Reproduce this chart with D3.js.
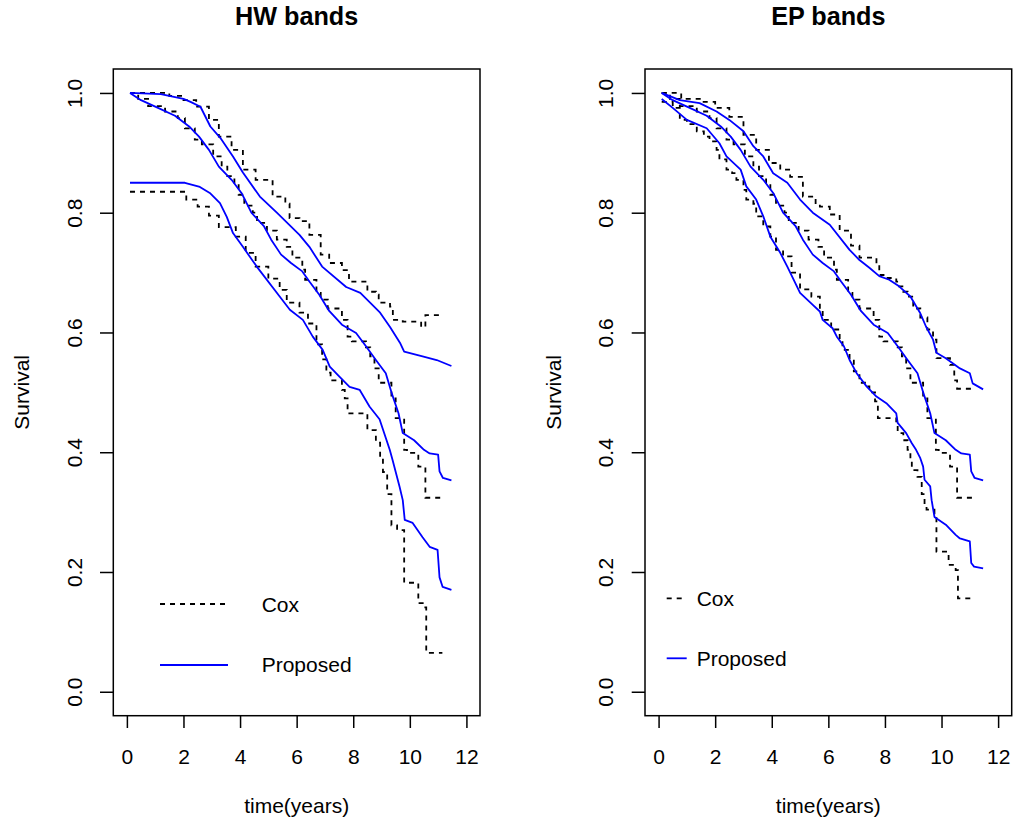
<!DOCTYPE html>
<html>
<head>
<meta charset="utf-8">
<script src="https://cdn.jsdelivr.net/npm/d3@7"></script>
<style>
  html, body { margin: 0; padding: 0; background: #fff; }
  svg { display: block; }
  text { font-family: "Liberation Sans", Arial, Helvetica, sans-serif; fill: #000; }
</style>
</head>
<body>
<svg id="chart" width="1014" height="824"></svg>
<script>
// ---- Survival curves: [time in years, survival probability] ----

// Point estimates (identical in both panels)
const coxEstimate = [[0.11,1.0],[0.4,0.99],[0.75,0.978],[1.35,0.969],[1.8,0.958],[2.05,0.941],[2.4,0.922],[2.65,0.914],[3.05,0.894],[3.35,0.877],[3.55,0.861],[3.8,0.848],[3.95,0.83],[4.15,0.812],[4.45,0.8],[4.6,0.783],[4.95,0.77],[5.3,0.755],[5.65,0.743],[5.85,0.725],[6.2,0.705],[6.3,0.688],[6.7,0.666],[6.85,0.655],[7.1,0.64],[7.6,0.621],[7.8,0.593],[7.95,0.585],[8.45,0.575],[8.6,0.56],[8.75,0.54],[8.9,0.516],[9.35,0.49],[9.5,0.457],[9.8,0.404],[9.9,0.399],[10.3,0.376],[10.55,0.324],[11.15,0.324]];
const proposedEstimate = [[0.11,1.0],[0.5,0.988],[1.1,0.975],[1.7,0.962],[2.2,0.944],[2.55,0.927],[2.9,0.905],[3.25,0.877],[3.7,0.855],[4.05,0.833],[4.4,0.8],[4.85,0.777],[5.1,0.755],[5.45,0.73],[5.8,0.716],[6.2,0.702],[6.45,0.685],[6.8,0.663],[7.15,0.636],[7.6,0.613],[8.1,0.599],[8.45,0.577],[8.8,0.554],[9.15,0.532],[9.35,0.5],[9.6,0.465],[9.75,0.432],[10.15,0.42],[10.5,0.404],[10.7,0.398],[11.0,0.396],[11.05,0.368],[11.17,0.357],[11.47,0.353]];

// HW bands
const hwCoxUpper = [[0.11,1.0],[1.5,0.995],[2.0,0.988],[2.45,0.977],[2.9,0.955],[3.25,0.927],[3.7,0.905],[4.1,0.872],[4.55,0.855],[5.15,0.827],[5.6,0.815],[5.75,0.791],[6.1,0.786],[6.45,0.763],[6.85,0.73],[7.15,0.716],[7.6,0.704],[7.85,0.685],[8.5,0.668],[8.8,0.663],[8.9,0.65],[9.3,0.643],[9.4,0.621],[9.75,0.618],[10.4,0.609],[10.55,0.629],[11.15,0.629]];
const hwCoxLower = [[0.11,0.835],[2.1,0.822],[2.5,0.81],[2.9,0.795],[3.25,0.776],[3.85,0.76],[4.2,0.733],[4.55,0.71],[5.0,0.69],[5.4,0.671],[5.65,0.65],[6.1,0.633],[6.4,0.615],[6.7,0.58],[6.9,0.555],[7.05,0.533],[7.2,0.52],[7.6,0.504],[7.7,0.49],[7.8,0.465],[8.5,0.437],[8.8,0.416],[8.95,0.39],[9.05,0.367],[9.2,0.33],[9.35,0.278],[9.55,0.27],[9.8,0.182],[10.3,0.148],[10.5,0.141],[10.58,0.065],[11.15,0.065]];
const hwPropUpper = [[0.11,1.0],[1.2,0.998],[2.0,0.99],[2.25,0.985],[2.6,0.977],[2.95,0.944],[3.3,0.925],[3.75,0.894],[4.1,0.867],[4.7,0.827],[5.3,0.8],[6.1,0.763],[6.45,0.743],[6.9,0.71],[7.75,0.676],[8.25,0.666],[8.95,0.633],[9.3,0.609],[9.65,0.583],[9.8,0.568],[10.45,0.56],[10.95,0.554],[11.47,0.544]];
const hwPropLower = [[0.11,0.85],[2.05,0.85],[2.58,0.843],[2.93,0.833],[3.29,0.816],[3.53,0.793],[3.75,0.766],[4.1,0.743],[4.59,0.71],[5.4,0.66],[5.76,0.638],[6.22,0.621],[6.57,0.593],[6.92,0.571],[7.17,0.543],[7.52,0.526],[7.87,0.509],[8.23,0.504],[8.58,0.476],[8.93,0.455],[9.29,0.404],[9.39,0.387],[9.64,0.342],[9.75,0.32],[9.82,0.287],[10.1,0.282],[10.45,0.258],[10.7,0.242],[10.98,0.237],[11.05,0.191],[11.16,0.175],[11.47,0.17]];

// EP bands
const epCoxUpper = [[0.11,1.0],[0.8,0.99],[1.5,0.985],[2.0,0.975],[2.5,0.96],[3.0,0.93],[3.45,0.905],[3.9,0.883],[4.3,0.872],[4.65,0.86],[5.1,0.827],[5.55,0.816],[5.7,0.81],[6.05,0.797],[6.4,0.77],[6.8,0.745],[7.1,0.725],[7.7,0.713],[7.8,0.696],[7.95,0.691],[8.4,0.685],[8.5,0.677],[8.65,0.668],[8.8,0.66],[9.0,0.64],[9.25,0.625],[9.5,0.605],[9.7,0.588],[9.82,0.557],[10.3,0.546],[10.45,0.52],[10.55,0.506],[11.1,0.506]];
const epCoxLower = [[0.11,0.985],[0.5,0.975],[0.75,0.955],[1.0,0.948],[1.35,0.936],[1.6,0.927],[1.8,0.919],[2.05,0.905],[2.15,0.889],[2.4,0.872],[2.6,0.866],[2.75,0.855],[3.0,0.838],[3.1,0.822],[3.35,0.815],[3.45,0.794],[3.7,0.777],[3.95,0.76],[4.15,0.738],[4.4,0.727],[4.7,0.7],[5.0,0.672],[5.4,0.66],[5.7,0.638],[5.8,0.621],[6.1,0.605],[6.4,0.588],[6.5,0.571],[6.75,0.553],[6.9,0.535],[7.1,0.516],[7.35,0.51],[7.45,0.5],[7.65,0.485],[7.75,0.457],[8.4,0.449],[8.45,0.432],[8.65,0.42],[8.8,0.404],[8.9,0.385],[8.95,0.37],[9.15,0.359],[9.3,0.33],[9.4,0.309],[9.47,0.304],[9.75,0.292],[9.82,0.234],[10.25,0.212],[10.5,0.203],[10.58,0.156],[11.15,0.156]];
const epPropUpper = [[0.11,1.0],[0.75,0.988],[1.45,0.983],[2.05,0.969],[2.5,0.955],[3.0,0.936],[3.35,0.911],[3.7,0.894],[4.05,0.866],[4.55,0.85],[5.0,0.822],[5.45,0.8],[6.05,0.78],[6.75,0.738],[7.1,0.721],[7.45,0.708],[7.8,0.694],[8.15,0.688],[8.5,0.677],[8.9,0.66],[9.25,0.632],[9.45,0.61],[9.7,0.588],[9.82,0.566],[10.15,0.557],[10.65,0.54],[11.0,0.532],[11.1,0.515],[11.47,0.505]];
const epPropLower = [[0.11,0.99],[0.5,0.975],[1.0,0.955],[1.7,0.941],[2.15,0.916],[2.4,0.894],[2.9,0.872],[3.1,0.844],[3.45,0.822],[3.7,0.794],[3.95,0.76],[4.3,0.733],[4.55,0.71],[5.0,0.666],[5.45,0.646],[5.7,0.635],[5.8,0.621],[6.15,0.607],[6.3,0.593],[6.55,0.577],[6.75,0.554],[7.0,0.532],[7.35,0.51],[7.7,0.493],[8.05,0.482],[8.4,0.465],[8.45,0.449],[8.75,0.432],[8.95,0.415],[9.1,0.404],[9.25,0.39],[9.35,0.376],[9.4,0.354],[9.6,0.343],[9.65,0.32],[9.75,0.292],[10.15,0.279],[10.5,0.262],[10.65,0.256],[11.0,0.251],[11.05,0.215],[11.15,0.209],[11.47,0.206]];

// Axes and labels
const xTicks = [0, 2, 4, 6, 8, 10, 12];
const yTicks = [0.0, 0.2, 0.4, 0.6, 0.8, 1.0];
const xDomain = [0, 12];
const yDomain = [0, 1];
const xLabel = "time(years)";
const yLabel = "Survival";
const legendLabels = ["Cox", "Proposed"];

const panels = [
  { title: "HW bands", left: 113.3, cox: [hwCoxUpper, coxEstimate, hwCoxLower], prop: [hwPropUpper, proposedEstimate, hwPropLower],
    legend: { x1: 160, x2: 228, tx: 261.7, y: [604, 665], ty: [611.5, 671.5] } },
  { title: "EP bands", left: 645, cox: [epCoxUpper, coxEstimate, epCoxLower], prop: [epPropUpper, proposedEstimate, epPropLower],
    legend: { x1: 666.7, x2: 686.7, tx: 696.7, y: [598.3, 658.3], ty: [606, 666] } }
];

const plotW = 366.7, plotTop = 69, plotBottom = 715.7;
const fontSize = 21;
const svg = d3.select("#chart");

panels.forEach(p => {
  const g = svg.append("g");
  // R-style 4% expansion of the axis limits
  const xPad = (xDomain[1] - xDomain[0]) * 0.04, yPad = (yDomain[1] - yDomain[0]) * 0.04;
  const x = d3.scaleLinear().domain([xDomain[0] - xPad, xDomain[1] + xPad]).range([p.left, p.left + plotW]);
  const y = d3.scaleLinear().domain([yDomain[0] - yPad, yDomain[1] + yPad]).range([plotBottom, plotTop]);

  // curves
  const stepLine = d3.line().x(d => x(d[0])).y(d => y(d[1])).curve(d3.curveStepAfter);
  const smoothLine = d3.line().x(d => x(d[0])).y(d => y(d[1]));
  p.cox.forEach(c => g.append("path").attr("d", stepLine(c))
    .attr("fill", "none").attr("stroke", "#000").attr("stroke-width", 1.8).attr("stroke-dasharray", "5,5"));
  p.prop.forEach(c => g.append("path").attr("d", smoothLine(c))
    .attr("fill", "none").attr("stroke", "#0000ff").attr("stroke-width", 1.8).attr("stroke-linejoin", "round"));

  // x axis
  const xa = g.append("g").attr("transform", `translate(0,${plotBottom})`)
    .call(d3.axisBottom(x).tickValues(xTicks).tickSize(12.3).tickPadding(21).tickFormat(d3.format("d")));
  xa.select(".domain").remove();
  xa.selectAll("line").attr("stroke", "#000").attr("stroke-width", 1.5);
  xa.selectAll("text").style("font-size", fontSize + "px").attr("fill", "#000");

  // y axis with rotated labels
  const ya = g.append("g").attr("transform", `translate(${p.left},0)`)
    .call(d3.axisLeft(y).tickValues(yTicks).tickSize(13.3).tickFormat(d3.format(".1f")));
  ya.select(".domain").remove();
  ya.selectAll("line").attr("stroke", "#000").attr("stroke-width", 1.5);
  ya.selectAll("text").style("font-size", fontSize + "px").attr("fill", "#000")
    .attr("transform", "rotate(-90)").attr("x", 0).attr("y", -31.6).attr("dy", 0)
    .attr("text-anchor", "middle");

  // frame
  g.append("rect").attr("x", p.left).attr("y", plotTop).attr("width", plotW).attr("height", plotBottom - plotTop)
    .attr("fill", "none").attr("stroke", "#000").attr("stroke-width", 1.5);

  // titles and axis labels
  const cx = p.left + plotW / 2;
  g.append("text").attr("x", cx).attr("y", 25.3).attr("text-anchor", "middle")
    .style("font-size", "25.2px").style("font-weight", "bold").text(p.title);
  g.append("text").attr("x", cx).attr("y", 812.5).attr("text-anchor", "middle")
    .style("font-size", fontSize + "px").text(xLabel);
  g.append("text").attr("transform", `translate(${p.left - 84.5},${(plotTop + plotBottom) / 2}) rotate(-90)`)
    .attr("text-anchor", "middle").style("font-size", fontSize + "px").text(yLabel);

  // legend
  const L = p.legend;
  g.append("line").attr("x1", L.x1).attr("x2", L.x2).attr("y1", L.y[0]).attr("y2", L.y[0])
    .attr("stroke", "#000").attr("stroke-width", 1.8).attr("stroke-dasharray", "5,5");
  g.append("line").attr("x1", L.x1).attr("x2", L.x2).attr("y1", L.y[1]).attr("y2", L.y[1])
    .attr("stroke", "#0000ff").attr("stroke-width", 1.8);
  legendLabels.forEach((lab, i) => g.append("text").attr("x", L.tx).attr("y", L.ty[i])
    .style("font-size", fontSize + "px").text(lab));
});
</script>
</body>
</html>
